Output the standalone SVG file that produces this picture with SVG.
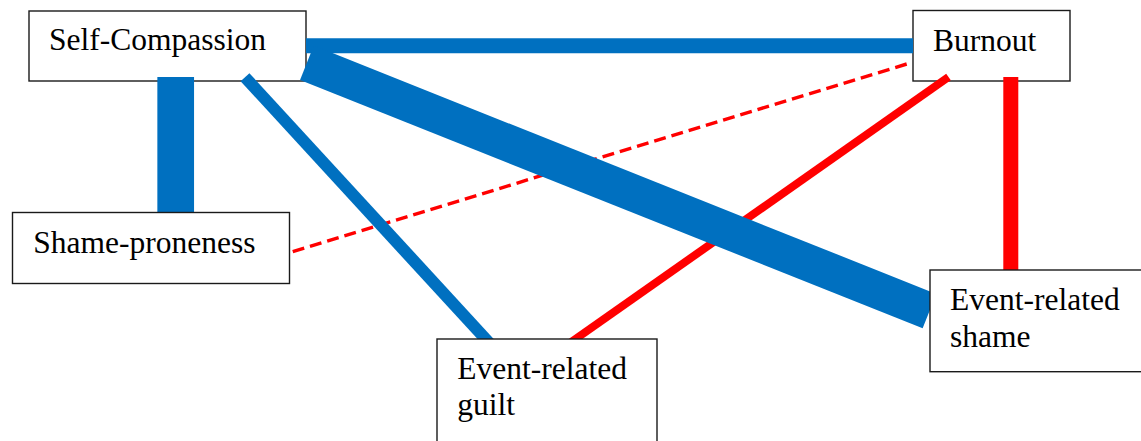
<svg xmlns="http://www.w3.org/2000/svg" width="1141" height="441" viewBox="0 0 1141 441">
<style>
.box{fill:#fff;stroke:#1a1a1a;stroke-width:1.4}
.lbl{font-family:"Liberation Serif","Times New Roman",serif;font-size:31.5px;fill:#000}
.blue{stroke:#0070C0;fill:none;stroke-linecap:butt}
.red{stroke:#FF0000;fill:none;stroke-linecap:butt}
</style>
<rect width="1141" height="441" fill="#fff"/>
<g id="node-self-compassion">
<rect class="box" x="29" y="11" width="277" height="70"/>
<text class="lbl" x="49" y="50">Self-Compassion</text>
</g>
<g id="node-burnout">
<rect class="box" x="913" y="10.5" width="157" height="70.5"/>
<text class="lbl" x="933" y="50.5">Burnout</text>
</g>
<g id="connectors">
<line class="red" x1="906.7" y1="64" x2="289.3" y2="252.7" stroke-width="3.4" stroke-dasharray="12 6"/>
<line class="red" x1="948.5" y1="77" x2="567" y2="345" stroke-width="8"/>
<line class="red" x1="1010.8" y1="77" x2="1010.8" y2="270" stroke-width="15"/>
<line class="blue" x1="306" y1="45.8" x2="913" y2="45.8" stroke-width="15"/>
<line class="blue" x1="175.7" y1="77" x2="175.7" y2="212.5" stroke-width="36.7"/>
<line class="blue" x1="245" y1="77.2" x2="493" y2="347" stroke-width="12"/>
<line class="blue" x1="306.9" y1="62.8" x2="929.5" y2="311.1" stroke-width="37"/>
</g>
<g id="node-shame-proneness">
<rect class="box" x="12.5" y="212.5" width="277" height="71"/>
<text class="lbl" x="33.3" y="253.3">Shame-proneness</text>
</g>
<g id="node-event-related-guilt">
<rect class="box" x="437" y="339" width="220" height="110"/>
<text class="lbl" x="457.3" y="378.5">Event-related</text>
<text class="lbl" x="457.3" y="414.5">guilt</text>
</g>
<g id="node-event-related-shame">
<rect class="box" x="930" y="270" width="220" height="101.7"/>
<text class="lbl" x="950" y="310">Event-related</text>
<text class="lbl" x="950" y="346.7">shame</text>
</g>
</svg>
